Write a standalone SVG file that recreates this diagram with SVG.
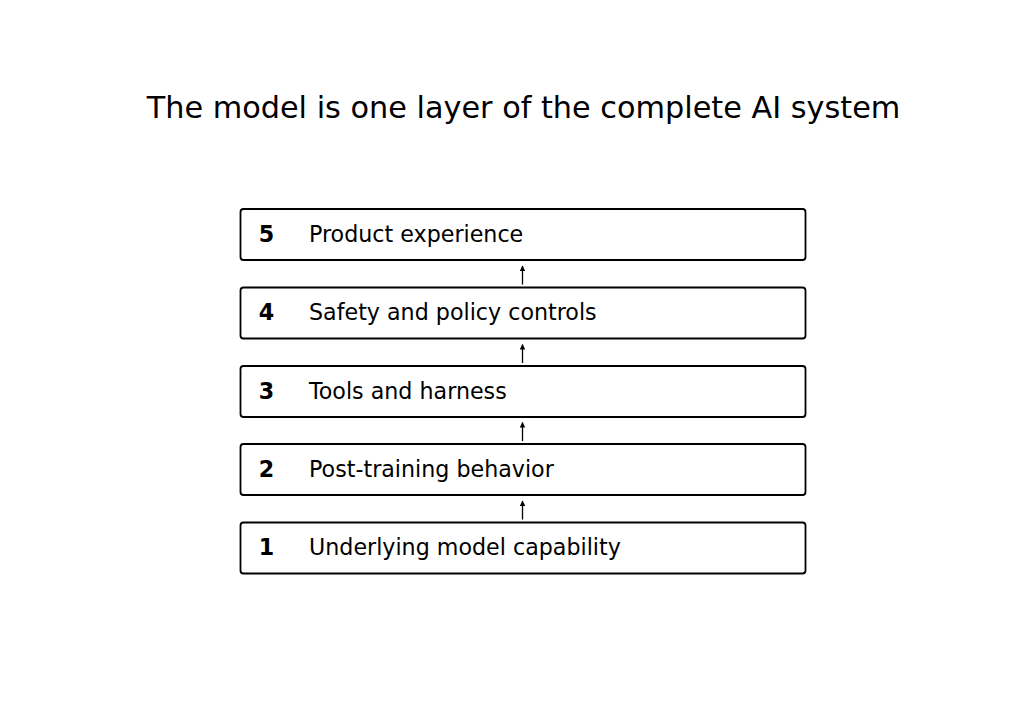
<svg xmlns="http://www.w3.org/2000/svg" width="1024" height="723" viewBox="0 0 1024 723">
<defs>
<style>
.box{fill:#fff;stroke:#000;stroke-width:1.8}
.num{font-family:"DejaVu Sans",sans-serif;font-size:22.2px;font-weight:bold;text-anchor:middle;fill:#000}
.lbl{font-family:"DejaVu Sans",sans-serif;font-size:22.2px;fill:#000}
.title{font-family:"DejaVu Sans",sans-serif;font-size:30.3px;text-anchor:middle;fill:#000}
.conn{stroke:#000;stroke-width:1.3;fill:none}
</style>
<marker id="ah" viewBox="0 0 10 10" refX="9" refY="5" markerWidth="6" markerHeight="5.5" markerUnits="userSpaceOnUse" orient="auto"><path d="M0,0 L10,5 L0,10 z" fill="#000"/></marker>
</defs>
<rect width="1024" height="723" fill="#fff"/>
<text class="title" x="523.5" y="117.5">The model is one layer of the complete AI system</text>
<g id="layer5"><rect class="box" x="240.5" y="209" width="565" height="51" rx="3"/><text class="num" x="266.5" y="241.5">5</text><text class="lbl" x="309" y="241.5">Product experience</text></g>
<g id="layer4"><rect class="box" x="240.5" y="287.5" width="565" height="51" rx="3"/><text class="num" x="266.5" y="320">4</text><text class="lbl" x="309" y="320">Safety and policy controls</text></g>
<g id="layer3"><rect class="box" x="240.5" y="366" width="565" height="51" rx="3"/><text class="num" x="266.5" y="398.5">3</text><text class="lbl" x="309" y="398.5">Tools and harness</text></g>
<g id="layer2"><rect class="box" x="240.5" y="444" width="565" height="51" rx="3"/><text class="num" x="266.5" y="476.5">2</text><text class="lbl" x="309" y="476.5">Post-training behavior</text></g>
<g id="layer1"><rect class="box" x="240.5" y="522.5" width="565" height="51" rx="3"/><text class="num" x="266.5" y="555">1</text><text class="lbl" x="309" y="555">Underlying model capability</text></g>
<g id="connectors">
<line class="conn" x1="522.5" y1="284.5" x2="522.5" y2="266" marker-end="url(#ah)"/>
<line class="conn" x1="522.5" y1="363" x2="522.5" y2="344.5" marker-end="url(#ah)"/>
<line class="conn" x1="522.5" y1="441" x2="522.5" y2="422.5" marker-end="url(#ah)"/>
<line class="conn" x1="522.5" y1="519.5" x2="522.5" y2="501" marker-end="url(#ah)"/>
</g>
</svg>
